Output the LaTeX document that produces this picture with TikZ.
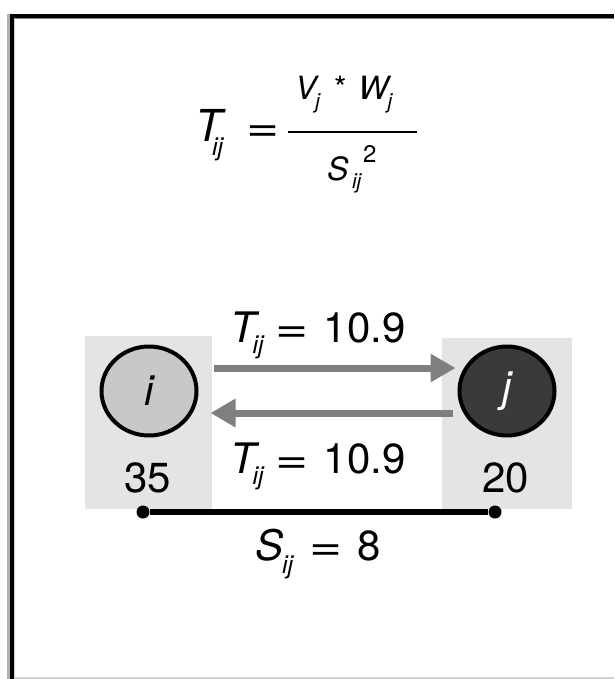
\documentclass[tikz,border=0pt]{standalone}
\usepackage{fontspec}
\setmainfont{TeX Gyre Heros}
\usetikzlibrary{arrows.meta,calc,shapes.geometric}
\definecolor{boxgray}{HTML}{E4E4E4}
\definecolor{igray}{HTML}{C8C8C8}
\definecolor{jdark}{HTML}{3A3A3A}
\definecolor{arrgray}{HTML}{7F7F7F}
\definecolor{edgegray}{HTML}{B0B0B0}
\newcommand{\bigfs}{\fontsize{42}{42}\selectfont}
\newcommand{\midfs}{\fontsize{32}{32}\selectfont}
\newcommand{\subfs}{\fontsize{25}{25}\selectfont}
\newcommand{\smallsub}{\fontsize{21}{21}\selectfont}
\newcommand{\mysub}[2]{\raisebox{-#1}{\subfs\itshape #2}}
\newcommand{\myeq}{\scalebox{1.35}[1]{=}}
\newcommand{\tlabel}{\bigfs{\itshape T}\kern-3pt\mysub{11pt}{ij}\hspace{12pt}\myeq\hspace{15pt}10.9}
\tikzset{
  txt/.style={inner sep=0pt, outer sep=0pt},
  flowarrow/.style={draw=arrgray, line width=7pt, -{Triangle[length=25pt,width=27pt]}},
  dotnode/.style={circle, fill=black, inner sep=0pt, minimum size=13pt},
  city/.style={ellipse, draw=black, line width=4pt, inner sep=0pt, minimum width=95pt, minimum height=89pt}
}
\begin{document}
\begin{tikzpicture}[x=1pt,y=-1pt]
\useasboundingbox (0,0) rectangle (614,679);
\fill[white] (0,0) rectangle (614,679);
% frame
\fill[edgegray] (7,14) rectangle (10,679);
\fill[black] (10,14) rectangle (13.5,679);
\fill[black] (10,14) rectangle (614,18);
\fill[gray] (13.5,18) rectangle (614,19.5);
\fill[edgegray!60] (13.5,18) rectangle (15,679);
\fill[edgegray!60] (13.5,677) rectangle (614,679);
% formula
\node[txt, anchor=base west] (fT) at (195,142) {\fontsize{44}{44}\selectfont\itshape T};
\node[txt, anchor=base west] (fTs) at (212,156) {\subfs\itshape ij};
\node[txt, anchor=base west] (feq) at (246,142) {\bigfs\myeq};
\draw[line width=2.5pt] (288,132) -- (417,132);
\node[txt, anchor=base west] (fnum) at (295,100) {\midfs{\itshape V}\kern-1pt\raisebox{-9pt}{\smallsub\itshape j}\hspace{14pt}*\hspace{12pt}{\itshape W}\kern-1pt\raisebox{-9pt}{\smallsub\itshape j}};
\node[txt, anchor=base west] (fS) at (327,180) {\midfs\itshape S};
\node[txt, anchor=base west] (fSsup) at (363,163) {\fontsize{24}{24}\selectfont 2};
\node[txt, anchor=base west] (fSsub) at (352,188) {\smallsub\itshape ij};
% boxes
\fill[boxgray] (85,336) rectangle (212,509);
\fill[boxgray] (442,338) rectangle (572,509);
% cities
\node[city, fill=igray] (i) at (149,391) {\bigfs\itshape i};
\node[city, fill=jdark] (j) at (507,391) {\bigfs\color{white}\itshape j};
% flows
\draw[flowarrow] ($(i.east)+(15,-23)$) -- ($(j.west)+(-2,-23)$);
\draw[flowarrow] ($(j.west)+(-5,22)$) -- ($(i.east)+(12,22)$);
\node[txt, anchor=base west] (ltop) at (230,342) {\tlabel};
\node[txt, anchor=base west] (lbot) at (230,473) {\tlabel};
% populations
\node[txt, anchor=base] (p35) at (147.5,492) {\bigfs 35};
\node[txt, anchor=base] (p20) at (505.5,492) {\bigfs 20};
% distance
\node[dotnode] (d1) at (143,512) {};
\node[dotnode] (d2) at (495,512) {};
\draw[line width=6pt] (d1) -- (d2);
\node[txt, anchor=base west] (dist) at (255,560) {\bigfs{\itshape S}\kern-1pt\mysub{13pt}{ij}\hspace{16pt}\myeq\hspace{15pt}8};
\end{tikzpicture}
\end{document}
